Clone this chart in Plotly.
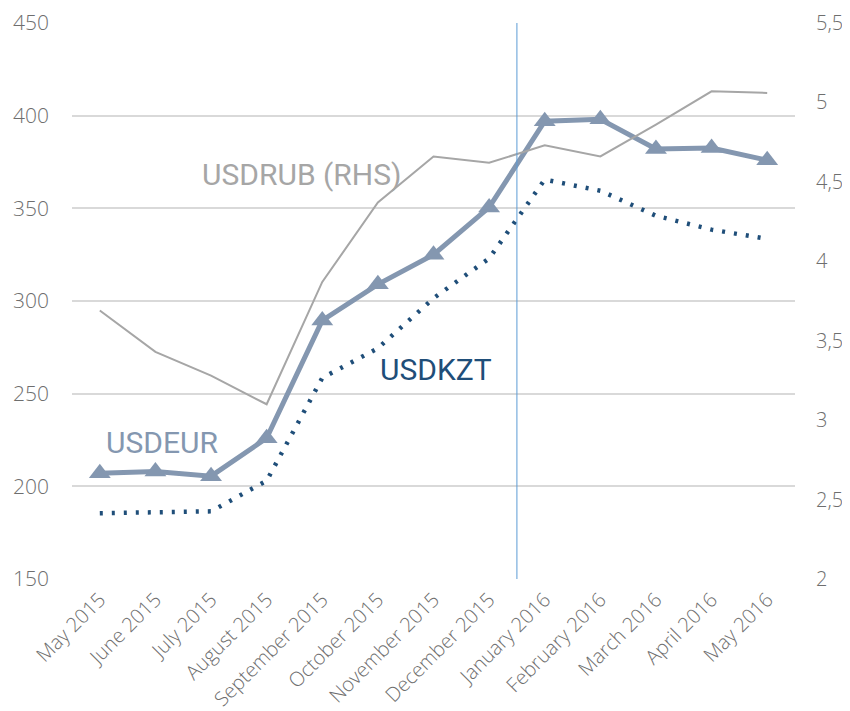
import plotly.graph_objects as go

# DATA
months = [
    "May 2015", "June 2015", "July 2015", "August 2015", "September 2015",
    "October 2015", "November 2015", "December 2015", "January 2016",
    "February 2016", "March 2016", "April 2016", "May 2016"
]

usdeur = [207, 208, 205.5, 226, 289.5, 309, 325, 350.5, 397, 398, 382, 382.5, 376]
usdkzt = [185.5, 186, 186.5, 203, 258.5, 274.5, 301.5, 323, 365.5, 359.5, 346, 338.5, 333.5]
usdrub = [3.69, 3.43, 3.28, 3.10, 3.87, 4.37, 4.66, 4.62, 4.73, 4.66, 4.86, 5.07, 5.06]

left_ticks = [150, 200, 250, 300, 350, 400, 450]
right_ticks = [2, 2.5, 3, 3.5, 4, 4.5, 5, 5.5]

EUR_COLOR = "#8497B0"
KZT_COLOR = "#1F4E79"
RUB_COLOR = "#A6A6A6"
TICK_COLOR = "#6E6E6E"
GRID_COLOR = "#D9D9D9"

divider = months.index("January 2016") - 0.5

fig = go.Figure()

# USDRUB (RHS)
fig.add_trace(
    go.Scatter(
        x=months,
        y=usdrub,
        yaxis="y2",
        mode="lines",
        name="USDRUB (RHS)",
        line=dict(color=RUB_COLOR, width=2)
    )
)

# USDKZT
fig.add_trace(
    go.Scatter(
        x=months,
        y=usdkzt,
        mode="lines",
        name="USDKZT",
        line=dict(color=KZT_COLOR, width=4.5, dash="3px,9px")
    )
)

# USDEUR
fig.add_trace(
    go.Scatter(
        x=months,
        y=usdeur,
        mode="lines+markers",
        name="USDEUR",
        line=dict(color=EUR_COLOR, width=5),
        marker=dict(symbol="triangle-up", size=19, color=EUR_COLOR)
    )
)

fig.add_shape(
    type="line",
    xref="x",
    yref="y",
    x0=divider,
    x1=divider,
    y0=left_ticks[0],
    y1=left_ticks[-1],
    line=dict(color="#5B9BD5", width=1)
)

label_font = dict(family="Roboto", size=30)

fig.add_annotation(
    x=0.3174, y=0.728, xref="paper", yref="paper",
    xanchor="center", yanchor="middle",
    text="USDRUB (RHS)", showarrow=False,
    font=dict(label_font, color=RUB_COLOR)
)
fig.add_annotation(
    x=0.1238, y=0.245, xref="paper", yref="paper",
    xanchor="center", yanchor="middle",
    text="USDEUR", showarrow=False,
    font=dict(label_font, color=EUR_COLOR)
)
fig.add_annotation(
    x=0.5035, y=0.376, xref="paper", yref="paper",
    xanchor="center", yanchor="middle",
    text="USDKZT", showarrow=False,
    font=dict(label_font, color=KZT_COLOR)
)

tick_font = dict(family="Open Sans", color=TICK_COLOR, weight=300)

# page body has an 8px margin, so the figure is shifted by 8px
fig.update_layout(
    width=842,
    height=703,
    margin=dict(l=64, r=55, t=15, b=132),
    template="plotly_white",
    paper_bgcolor="white",
    plot_bgcolor="white",
    showlegend=False,
    separators=", ",
    font=dict(family="Open Sans", color=TICK_COLOR),
    xaxis=dict(
        type="category",
        range=[-0.5, len(months) - 0.5],
        tickangle=-45,
        tickfont=dict(tick_font, size=20),
        showgrid=False,
        zeroline=False,
        showline=False,
        ticks="",
        ticklabelstandoff=4,
        automargin=False
    ),
    yaxis=dict(
        range=[left_ticks[0], left_ticks[-1]],
        tickvals=left_ticks,
        tickfont=dict(tick_font, size=21),
        gridcolor=GRID_COLOR,
        gridwidth=1.5,
        zeroline=False,
        showline=False,
        ticklabelstandoff=22,
        automargin=False
    ),
    yaxis2=dict(
        overlaying="y",
        side="right",
        range=[right_ticks[0], right_ticks[-1]],
        tickvals=right_ticks,
        tickfont=dict(tick_font, size=20),
        showgrid=False,
        zeroline=False,
        showline=False,
        ticklabelstandoff=20,
        automargin=False
    )
)

fig.write_html("out.html")
